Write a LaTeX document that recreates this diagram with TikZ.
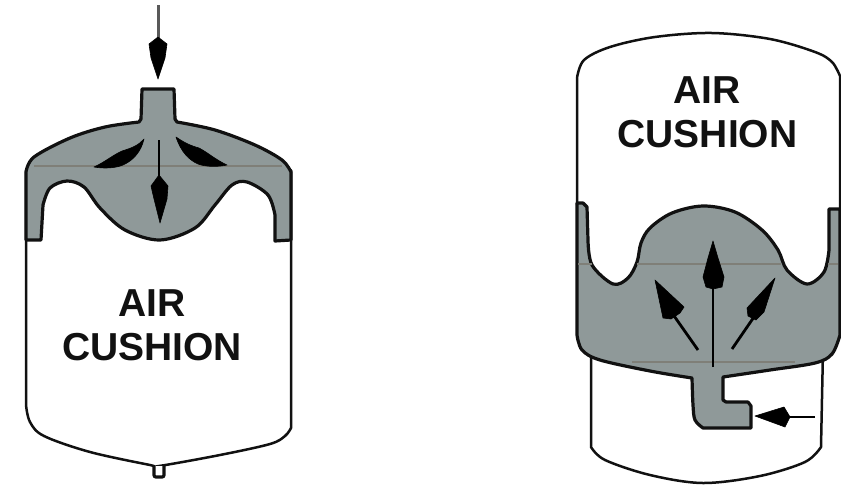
\documentclass[tikz,border=0pt]{standalone}
\usepackage{fontspec}
\setmainfont{Liberation Sans}
\definecolor{liquid}{HTML}{8F9999}
\definecolor{seam}{HTML}{7F7F78}
\definecolor{ink}{HTML}{111111}
\tikzset{
  shell/.style={draw=ink,line width=2.5pt,line join=round,fill=white},
  wet/.style={draw=ink,line width=3.2pt,line join=round,fill=liquid},
  seamline/.style={draw=seam,line width=1.2pt},
  tip/.style={fill=black,draw=black,line width=.6pt,line join=round},
  stem/.style={draw=black,line width=2.8pt},
  stemgrey/.style={draw=black!65,line width=3pt},
  label/.style={font=\bfseries\fontsize{39}{44}\selectfont,anchor=base,inner sep=0pt,text=ink},
  sm/.style={smooth,tension=.55}
}
\begin{document}
\begin{tikzpicture}[x=1pt,y=-1pt]
\useasboundingbox (0,0) rectangle (841,485);
\fill[white] (0,0) rectangle (841,485);

% ---------- left tank ----------
\draw[shell] (26,170) -- (26,405)
  -- plot[sm] coordinates {(26,405) (30,422) (44,436) (90,452) (150,465) (159,466) (220,455) (270,444) (285,436) (291,428)}
  -- (291,170) -- cycle;
\draw[draw=ink,line width=3.2pt,fill=white,rounded corners=2pt] (154,466) -- (154,477) -- (164,477) -- (164,466);
\draw[wet] (142,89) -- (174,89) -- (175,119) -- (177,122)
  -- plot[sm] coordinates {(177,122) (215,130) (255,145) (282,160) (291,172)}
  -- (291,240) -- (275,241) -- (275,215)
  -- plot[sm] coordinates {(275,215) (268,195) (247,182) (232,185) (215,205) (195,228) (160,240) (125,230) (100,208) (84,187) (67,181) (50,188) (43,205)}
  -- (41,240) -- (26,240) -- (26,172)
  -- plot[sm] coordinates {(26,172) (34,157) (70,138) (105,127) (139,122)}
  -- (141,119) -- cycle;
\draw[seamline] (34,166) -- (282,166);
% inlet arrow
\draw[stemgrey] (158,5) -- (158,45);
\fill[tip] (158,37) -- (167,44) -- (165,58) -- (158,79) -- (151,58) -- (149,44) -- cycle;
% centre arrow
\draw[stem] (159,140) -- (159,182);
\fill[tip] (159,175) -- (168,186) -- (167,199) -- (160,223) -- (154,199) -- (151,186) -- cycle;
% side jets
\fill[tip] (144,139) .. controls (141,152) and (133,160) .. (125,164)
  .. controls (118,168) and (105,169) .. (94,167)
  .. controls (105,162) and (113,155) .. (122,151)
  .. controls (132,148) and (139,145) .. (144,139) -- cycle;
\fill[tip] (176,137) .. controls (181,152) and (189,160) .. (198,164)
  .. controls (206,167) and (218,167) .. (227,165)
  .. controls (216,160) and (207,152) .. (199,148)
  .. controls (188,145) and (182,141) .. (176,137) -- cycle;
\node[label] (airL) at (152,316) {AIR};
\node[label] (cushL) at (152,360) {CUSHION};

% ---------- right tank ----------
\draw[shell] (577,205) -- (577,78)
  -- plot[sm] coordinates {(577,78) (584,60) (610,47) (655,37) (712,33) (770,39) (815,52) (832,62) (840,76)}
  -- (840,210);
\draw[shell] (591,350) -- (591,447)
  -- plot[sm] coordinates {(591,447) (605,460) (650,475) (703,483) (760,476) (805,462) (821,447)}
  -- (823,350);
\draw[wet] (577,203) -- (583,203) -- (587,207) -- (588,240)
  -- plot[sm] coordinates {(588,240) (592,265) (613,284) (628,278) (637,262) (641,243) (650,228) (672,213) (703,206) (735,212) (762,230) (778,250) (787,270) (807,284) (824,272) (829,250)}
  -- (829,209) -- (840,209) -- (840,335)
  -- plot[sm] coordinates {(840,335) (832,354) (815,363) (770,370) (723,377)}
  -- (723,400) -- (726,402) -- (748,402) -- (751,406) -- (751,428) -- (703,428)
  -- plot[sm] coordinates {(703,428) (695,420) (693,405) (692,378)}
  -- plot[sm] coordinates {(692,378) (650,371) (600,360) (582,350) (577,335)}
  -- cycle;
\draw[seamline] (578,264) -- (592,264);
\draw[seamline] (637,264) -- (781,264);
\draw[seamline] (828,264) -- (838,264);
\draw[seamline] (632,362) -- (795,362);
% centre arrow
\draw[stem] (713,367) -- (713,285);
\fill[tip] (713,241) -- (718,258) -- (724,277) -- (722,287) -- (713,289) -- (706,287) -- (703,277) -- (708,258) -- cycle;
% left arrow
\draw[stem] (698,350) -- (672,313);
\fill[tip] (655,280) -- (684,307) -- (680,313) -- (671,319) -- (663,318) -- cycle;
% right arrow
\draw[stem] (732,349) -- (756,314);
\fill[tip] (775,278) -- (747,308) -- (748,316) -- (756,320) -- (764,312) -- cycle;
% inlet arrow
\draw[stem] (815,417) -- (785,417);
\fill[tip] (755,416) -- (784,407) -- (790,417) -- (785,427) -- cycle;
\node[label] (airR) at (707,103) {AIR};
\node[label] (cushR) at (707.5,147) {CUSHION};
\end{tikzpicture}
\end{document}
